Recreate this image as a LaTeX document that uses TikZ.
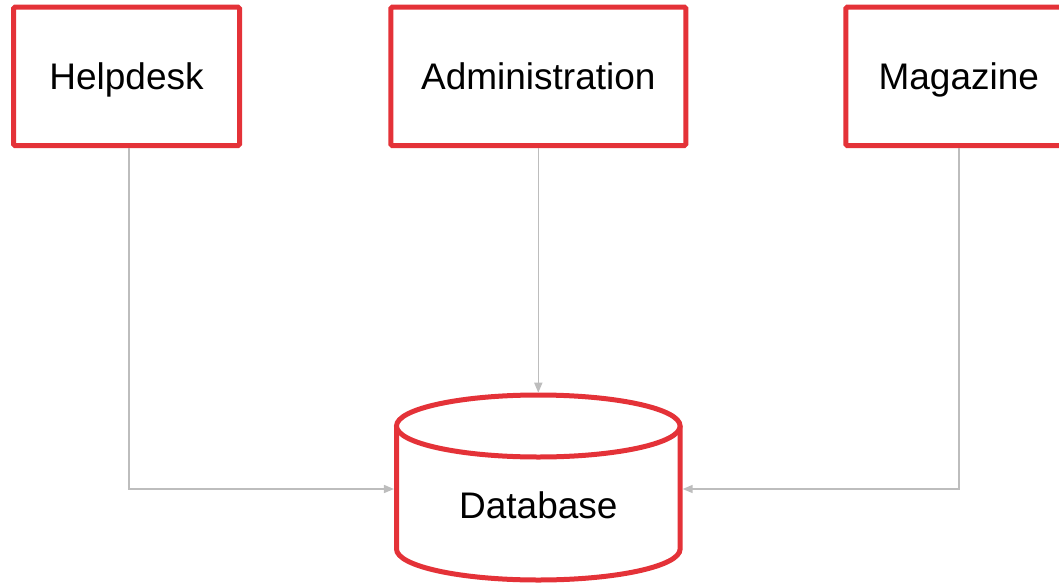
\documentclass[tikz,border=0pt]{standalone}
\usepackage{fontspec}
\setmainfont{Liberation Sans}
\usetikzlibrary{arrows.meta}
\definecolor{boxred}{RGB}{228,50,56}
\definecolor{conngray}{RGB}{189,189,189}
\begin{document}
\begin{tikzpicture}[x=1pt,y=-1pt,
  box/.style={draw=boxred,line width=5pt,rounded corners=1.5pt,fill=white,
    minimum height=138.5pt,inner sep=0pt,
    font=\fontsize{37}{44}\selectfont,text height=26.5pt,text depth=0pt},
  lbl/.style={inner sep=0pt,font=\fontsize{37}{44}\selectfont,text height=26.5pt,text depth=0pt},
  cyl/.style={draw=boxred,line width=5pt,fill=white},
  conn/.style={draw=conngray,line width=1.5pt,-{Triangle[length=10pt,width=8pt]}}]
\useasboundingbox (0,0) rectangle (1059,583);
\node[box,minimum width=226pt] (hd) at (126.5,76.3) {Helpdesk};
\node[box,minimum width=295pt] (adm) at (538.3,76.3) {Administration};
\node[box,minimum width=226pt] (mag) at (958.8,76.3) {Magazine};
% database cylinder
\node[draw=none,outer sep=0pt,minimum width=288.7pt,minimum height=192.6pt] (db) at (538.3,489) {};
\path[cyl] (396.5,426) -- (396.5,549)
  arc[start angle=180,end angle=360,x radius=141.8pt,y radius=31pt] -- (680.1,426);
\path[cyl] (538.3,426) ellipse [x radius=141.8pt,y radius=31pt];
\node[lbl] (dbl) at (538.3,505.3) {Database};
% connectors
\draw[conn] ([xshift=2.5pt]hd.south) |- (db.west);
\draw[conn] (adm.south) -- (db.north);
\draw[conn] (mag.south) |- (db.east);
\end{tikzpicture}
\end{document}
